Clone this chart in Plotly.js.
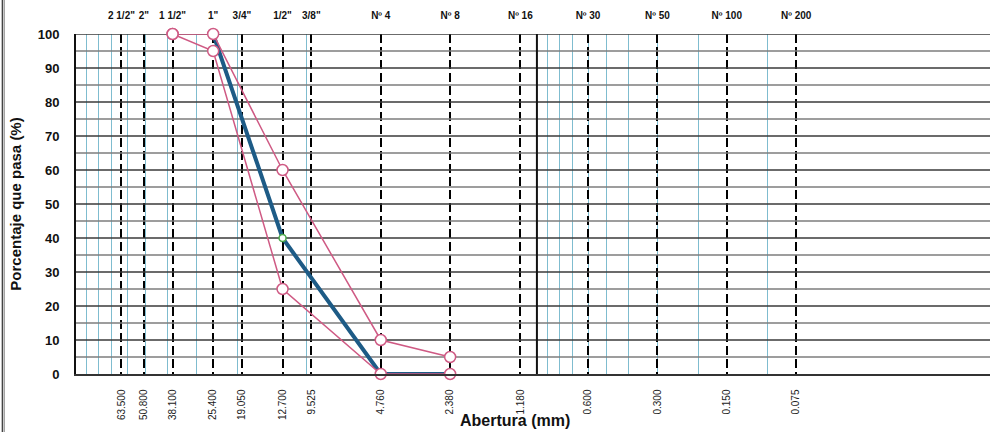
<!DOCTYPE html>
<html>
<head>
<meta charset="utf-8">
<script src="https://cdn.plot.ly/plotly-3.0.1.min.js"></script>
<style>html,body{margin:0;padding:0;background:#fff;}#chart{width:990px;height:432px;}</style>
</head>
<body>
<div id="chart"></div>
<script>
// Sieve openings (mm), bottom labels and top sieve names
const sieveMM = [63.5, 50.8, 38.1, 25.4, 19.05, 12.7, 9.525, 4.76, 2.38, 1.18, 0.6, 0.3, 0.15, 0.075];
const sieveMMLabels = ["63.500","50.800","38.100","25.400","19.050","12.700","9.525","4.760","2.380","1.180","0.600","0.300","0.150","0.075"];
const sieveNames = ['2 1/2"','2"','1 1/2"','1"','3/4"','1/2"','3/8"','Nº 4','Nº 8','Nº 16','Nº 30','Nº 50','Nº 100','Nº 200'];
// Log-paper minor grid (mm) and decade line
const minorGrid = [90,80,70,60,50,40,30,20,10,0.9,0.8,0.7,0.6,0.5,0.4,0.3,0.2,0.1];
const decadeLine = [1, 1];
const decadeLineY = [0, 100];
// Horizontal grid (%)
const majorRows = [10,20,30,40,50,60,70,80,90,100];
const minorRows = [5,15,25,35,45,55,65,75,85,95];
// Specification limits
const limitSizes = [38.1, 25.4, 12.7, 4.76, 2.38];
const upperLimit = [100, 100, 60, 10, 5];
const lowerLimit = [100, 95, 25, 0, 0];
// Sample gradation
const sampleSizes = [25.4, 12.7, 4.76, 2.38];
const samplePass = [100, 40, 0, 0];

const font = "'Liberation Sans', Arial, sans-serif";
const pink = '#cf5a84';
const xr = [2, -1.966];
const xEnds = [Math.pow(10, xr[0]), Math.pow(10, xr[1])];

function rowTrace(rows, color, width) {
  const x = [], y = [];
  rows.forEach(v => { x.push(xEnds[0], xEnds[1], null); y.push(v, v, null); });
  return {type: 'scatter', x: x, y: y, mode: 'lines', connectgaps: false, line: {color: color, width: width, simplify: false}, hoverinfo: 'skip', showlegend: false};
}

const traces = [
  rowTrace(minorRows, '#7c7c7c', 1.5),
  rowTrace(majorRows, '#3a3a3a', 1.6),
  {x: decadeLine, y: decadeLineY, mode: 'lines', line: {color: '#111', width: 2}, hoverinfo: 'skip', showlegend: false},
  {x: sampleSizes, y: samplePass, mode: 'lines+markers', line: {color: '#1d5b86', width: 4},
   marker: {symbol: 'circle', size: 7, color: '#ffffff', line: {color: '#4aa84a', width: 1.5}},
   cliponaxis: false, showlegend: false},
  {x: limitSizes, y: upperLimit, mode: 'lines+markers', line: {color: pink, width: 1.5},
   marker: {symbol: 'circle', size: 11, color: '#ffffff', line: {color: pink, width: 1.5}},
   cliponaxis: false, showlegend: false},
  {x: limitSizes, y: lowerLimit, mode: 'lines+markers', line: {color: pink, width: 1.5},
   marker: {symbol: 'circle', size: 11, color: '#ffffff', line: {color: pink, width: 1.5}},
   cliponaxis: false, showlegend: false},
  {x: sieveMM, y: sieveMM.map(() => null), xaxis: 'x2', yaxis: 'y', mode: 'lines', showlegend: false, hoverinfo: 'skip'}
];

const layout = {
  width: 990, height: 432,
  margin: {l: 76, r: 0, t: 34, b: 58},
  paper_bgcolor: '#ffffff', plot_bgcolor: '#ffffff',
  font: {family: font, color: '#111'},
  showlegend: false,
  xaxis: {
    type: 'log', range: xr, autorange: false,
    tickmode: 'array', tickvals: sieveMM, ticktext: sieveMMLabels,
    tickangle: -90, ticks: '', ticklabelstandoff: 10,
    tickfont: {family: font, size: 10, color: '#222'},
    showgrid: true, gridcolor: '#000', gridwidth: 2, griddash: '9px,4px',
    minor: {tickmode: 'array', tickvals: minorGrid, showgrid: true, gridcolor: '#7fbccf', gridwidth: 1, griddash: 'solid', ticks: ''},
    showline: true, linecolor: '#333', linewidth: 1.5,
    zeroline: false
  },
  xaxis2: {
    type: 'log', range: xr, autorange: false, overlaying: 'x', side: 'top', anchor: 'y',
    tickmode: 'array', tickvals: sieveMM, ticktext: sieveNames,
    ticks: '', ticklabelstandoff: 12,
    tickfont: {family: font, size: 10, color: '#111', weight: 'bold'},
    showgrid: false, showline: false, zeroline: false
  },
  yaxis: {
    range: [0, 100], autorange: false,
    tickmode: 'linear', tick0: 0, dtick: 10,
    ticks: '', ticklabelstandoff: 12,
    tickfont: {family: font, size: 13, color: '#111', weight: 'bold'},
    showgrid: false,
    showline: true, linecolor: '#111', linewidth: 2,
    zeroline: false,
    title: {text: 'Porcentaje que pasa (%)', font: {family: font, size: 15, color: '#111', weight: 'bold'}, standoff: 12}
  },
  annotations: [
    {text: 'Abertura (mm)', xref: 'paper', yref: 'paper', x: 0.48, y: -0.136, xanchor: 'center', yanchor: 'middle',
     showarrow: false, font: {family: font, size: 16, color: '#111', weight: 'bold'}}
  ],
  shapes: [
    {type: 'line', xref: 'paper', yref: 'paper', x0: -0.0805, x1: -0.0805, y0: -0.2, y1: 1.12, line: {color: '#444', width: 1.5}},
    {type: 'line', xref: 'paper', yref: 'paper', x0: -0.0785, x1: -0.0785, y0: -0.2, y1: 1.12, line: {color: '#888', width: 1}}
  ]
};

Plotly.newPlot('chart', traces, layout, {staticPlot: true, displayModeBar: false});
</script>
</body>
</html>
